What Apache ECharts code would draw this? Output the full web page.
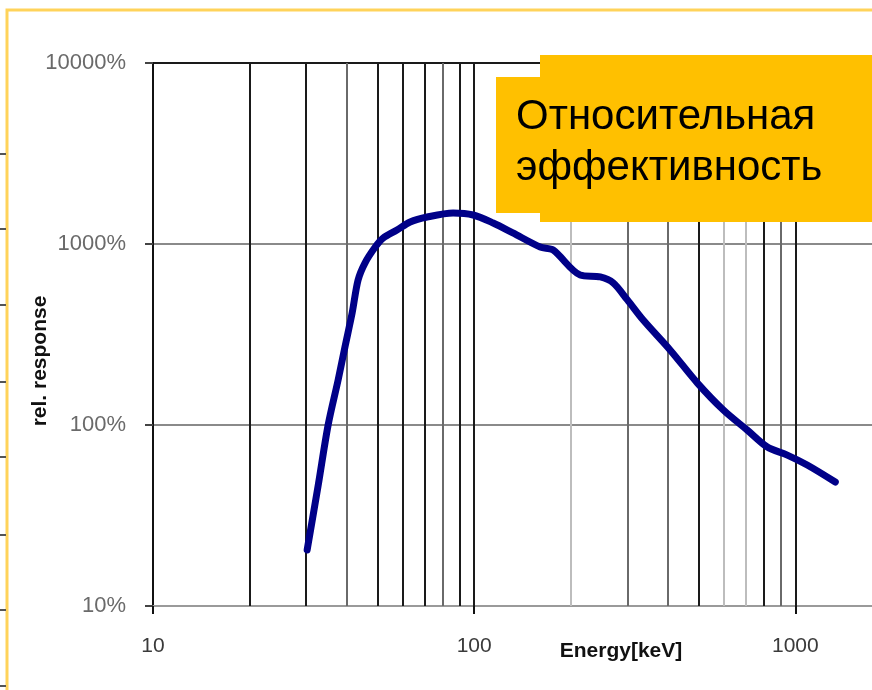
<!DOCTYPE html>
<html>
<head>
<meta charset="utf-8">
<script src="https://cdn.jsdelivr.net/npm/echarts@6/dist/echarts.min.js"></script>
<style>
  html, body { margin: 0; padding: 0; background: #ffffff; }
  #chart { width: 872px; height: 690px; }
</style>
</head>
<body>
<div id="chart"></div>
<script>
// Relative detector response versus photon energy (log-log)
const energyKeV = [30.2, 32.7, 35.1, 37.7, 39.6, 41.7, 43.5, 45.7, 49.2, 52.1, 57.5, 63.2, 71.4, 86.0,
                   99.3, 114.6, 132, 160.6, 176, 213.8, 247, 271, 300, 336, 408, 495, 597, 708, 818,
                   944, 1089, 1332];
const responsePct = [20.4, 46.6, 100, 177, 270, 416, 632, 785, 962, 1079, 1194, 1323, 1409, 1483,
                     1446, 1306, 1151, 962, 927, 674, 658, 610, 491, 380, 259, 171, 121, 93.8, 75.5,
                     68.2, 60.1, 48.4];

// Vertical grid positions (keV) and y decade ticks
const energyGrid = [20, 30, 40, 50, 60, 70, 80, 90, 100, 200, 300, 400, 500, 600, 700, 800, 900, 1000];
const responseTicks = [10, 100, 1000, 10000];
const energyTicks = [10, 100, 1000];

const annotationLines = ['Относительная', 'эффективность'];
const yTitle = 'rel. response';
const xTitle = 'Energy[keV]';

const FONT = '"Liberation Sans", Arial, sans-serif';

const lightLines = new Set([200, 600, 700]);
const midLines = new Set([40, 80, 300, 400, 900]);
function gridColor(v) {
  if (lightLines.has(v)) return '#bdbdbd';
  if (midLines.has(v)) return '#6a6a6a';
  return '#1a1a1a';
}

const chart = echarts.init(document.getElementById('chart'), null, { renderer: 'canvas' });

const points = energyKeV.map((e, i) => [e, responsePct[i]]);

const edgeMarkY = [154, 229, 305, 382, 457, 535, 610, 686];

const option = {
  backgroundColor: '#ffffff',
  animation: false,
  grid: { left: 153, top: 63, width: 739, height: 543, containLabel: false, outerBoundsMode: 'none' },
  xAxis: {
    type: 'log',
    logBase: 10,
    min: 10,
    max: 2000,
    axisLine: { show: true, lineStyle: { color: '#9a9a9a', width: 2 } },
    axisTick: {
      show: true, length: 8, lineStyle: { color: '#111', width: 2 },
      interval: (idx, v) => energyTicks.includes(Number(v))
    },
    axisLabel: {
      margin: 30,
      color: '#3a3a3a',
      fontFamily: FONT,
      fontSize: 21,
      formatter: v => (energyTicks.includes(Number(v)) ? String(v) : '')
    },
    splitLine: { show: false }
  },
  yAxis: {
    type: 'log',
    logBase: 10,
    min: 10,
    max: 10000,
    axisLine: { show: true, lineStyle: { color: '#111', width: 2 } },
    axisTick: { show: true, length: 8, lineStyle: { color: '#444', width: 2 } },
    axisLabel: {
      margin: 27,
      color: '#6a6a6a',
      fontFamily: FONT,
      fontSize: 22,
      formatter: v => (responseTicks.includes(Number(v)) ? v + '%' : '')
    },
    splitLine: {
      show: true,
      lineStyle: { color: ['#8a8a8a', '#8a8a8a', '#8a8a8a', '#1a1a1a'], width: 2 }
    }
  },
  series: [
    {
      // carries the vertical grid lines at each energy step
      type: 'line',
      data: points,
      symbol: 'none',
      lineStyle: { opacity: 0 },
      silent: true,
      z: 1,
      markLine: {
        silent: true,
        symbol: ['none', 'none'],
        label: { show: false },
        animation: false,
        data: energyGrid.map(v => ({
          xAxis: v,
          lineStyle: { color: gridColor(v), width: 2, type: 'solid' }
        }))
      }
    },
    {
      name: yTitle,
      type: 'line',
      data: points,
      smooth: 0.3,
      symbol: 'none',
      z: 5,
      lineStyle: { color: '#000088', width: 7, cap: 'round', join: 'round' }
    }
  ],
  graphic: [
    // page frame
    {
      type: 'polyline', z: 50, silent: true,
      shape: { points: [[7, 690], [7, 10], [872, 10]] },
      style: { stroke: '#ffd35a', lineWidth: 3, fill: null }
    },
    ...edgeMarkY.map(y => ({
      type: 'line', z: 50, silent: true,
      shape: { x1: 0, y1: y, x2: 6, y2: y },
      style: { stroke: '#555', lineWidth: 2 }
    })),
    // axis titles
    {
      type: 'text', z: 50, silent: true,
      x: 40, y: 361, rotation: Math.PI / 2,
      style: {
        text: yTitle, fill: '#111', font: 'bold 21px ' + FONT,
        align: 'center', verticalAlign: 'middle'
      }
    },
    {
      type: 'text', z: 50, silent: true,
      x: 621, y: 651,
      style: {
        text: xTitle, fill: '#111', font: 'bold 21px ' + FONT,
        align: 'center', verticalAlign: 'middle'
      }
    },
    // annotation box
    {
      type: 'rect', z: 100, silent: true,
      shape: { x: 540, y: 55, width: 340, height: 167 },
      style: { fill: '#ffc000' }
    },
    {
      type: 'rect', z: 100, silent: true,
      shape: { x: 496, y: 77, width: 380, height: 136 },
      style: { fill: '#ffc000' }
    },
    {
      type: 'text', z: 101, silent: true,
      x: 516, y: 117,
      style: { text: annotationLines[0], fill: '#000', font: '42px ' + FONT, align: 'left', verticalAlign: 'middle' }
    },
    {
      type: 'text', z: 101, silent: true,
      x: 516, y: 168,
      style: { text: annotationLines[1], fill: '#000', font: '42px ' + FONT, align: 'left', verticalAlign: 'middle' }
    }
  ]
};

chart.setOption(option);
</script>
</body>
</html>
